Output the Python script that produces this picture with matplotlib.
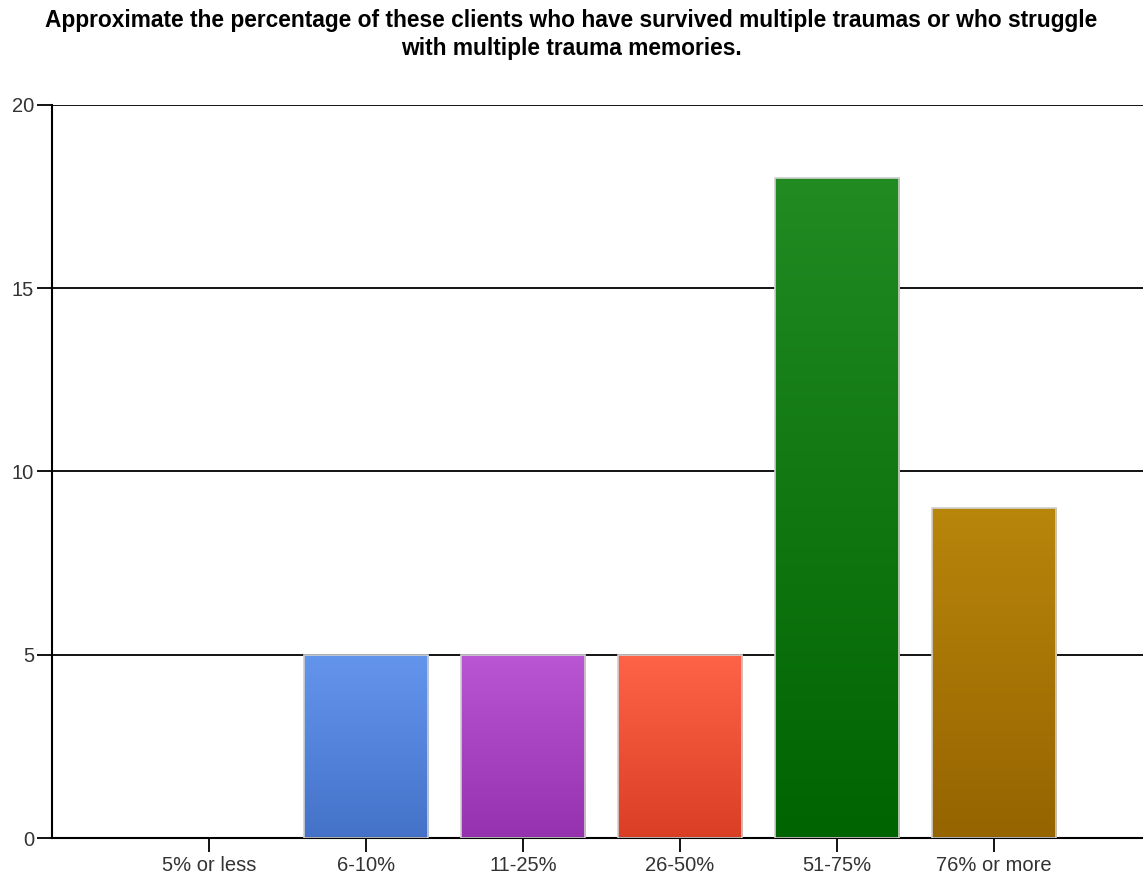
import matplotlib
matplotlib.use("Agg")
import matplotlib.pyplot as plt
import numpy as np
from matplotlib.colors import LinearSegmentedColormap

categories = ["5% or less", "6-10%", "11-25%", "26-50%", "51-75%", "76% or more"]
values = [0, 5, 5, 5, 18, 9]
yticks = [0, 5, 10, 15, 20]
top_colors = ["#6A8FE0", "#6495ED", "#BA55D3", "#FF6347", "#228B22", "#B8860B"]
bottom_colors = ["#4470C8", "#4472C9", "#9632AE", "#DA3F25", "#006400", "#966400"]
title = ("Approximate the percentage of these clients who have survived multiple traumas or who struggle\n"
         "with multiple trauma memories.")

plt.rcParams['font.family'] = ['Liberation Sans', 'DejaVu Sans']

fig = plt.figure(figsize=(11.43, 8.77), dpi=100)
ax = fig.add_axes([52/1143, 39/877, 1 - 52/1143, (838-105)/877])

x = np.arange(1, len(categories) + 1)
bars = ax.bar(x, values, width=0.79, color="none", edgecolor="#D0D0D0", linewidth=1.2, zorder=3)
grad = np.linspace(1, 0, 256).reshape(-1, 1)
for b, v, tc, bc in zip(bars, values, top_colors, bottom_colors):
    if v <= 0:
        b.set_visible(False)
        continue
    cmap = LinearSegmentedColormap.from_list("g", [bc, tc])
    x0, y0 = b.get_x(), b.get_y()
    im = ax.imshow(grad, aspect="auto", cmap=cmap, extent=[x0, x0 + b.get_width(), y0, y0 + b.get_height()],
                   zorder=2, interpolation="bilinear", vmin=0, vmax=1)
    im.set_clip_path(b)

ax.set_xlim(0, 6.95)
ax.set_ylim(0, 20)
ax.set_yticks(yticks)
ax.set_xticks(x)
ax.set_xticklabels(categories)
ax.yaxis.grid(True, color="black", linewidth=1.3, zorder=1)
ax.set_axisbelow(True)
for s in ["top", "right"]:
    ax.spines[s].set_visible(False)
ax.spines["left"].set_linewidth(1.5)
ax.spines["bottom"].set_linewidth(1.5)
ax.tick_params(axis="y", length=11, width=1.3, labelsize=14.5, labelcolor="#333333", pad=2)
ax.tick_params(axis="x", length=10, width=1.3, labelsize=14.5, labelcolor="#333333", pad=3)

fig.text(0.5, 1 - 9/877, title, ha="center", va="top", fontsize=16.4, fontweight="bold", linespacing=1.3)

fig.savefig("out.png", dpi=100)
